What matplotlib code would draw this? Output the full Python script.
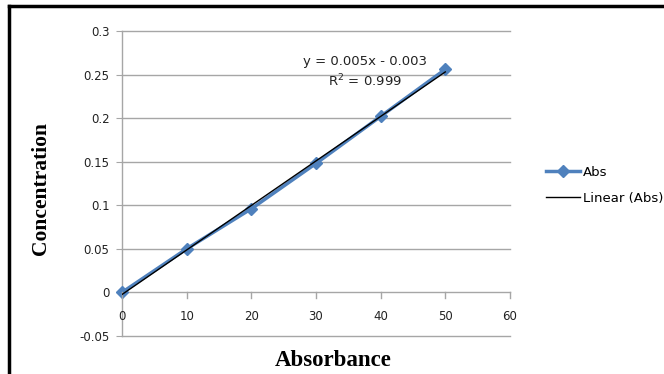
import numpy as np
import matplotlib.pyplot as plt
from matplotlib.lines import Line2D

# data
absorbance = [0, 10, 20, 30, 40, 50]
concentration = [0.0, 0.05, 0.096, 0.148, 0.202, 0.256]
x_ticks = [0, 10, 20, 30, 40, 50, 60]
y_ticks = [-0.05, 0, 0.05, 0.1, 0.15, 0.2, 0.25, 0.3]
y_tick_labels = ["-0.05", "0", "0.05", "0.1", "0.15", "0.2", "0.25", "0.3"]

fig = plt.figure(figsize=(6.64, 3.74), dpi=100)
ax = fig.add_axes([0.1837, 0.1016, 0.5843, 0.8155])

ax.set_xlim(0, 60)
ax.set_ylim(-0.05, 0.3)

# gridlines at every y tick, gray
for yv in y_ticks:
    ax.axhline(yv, color="#a6a6a6", lw=1, zorder=0, clip_on=False)
for s in ax.spines.values():
    s.set_visible(False)
ax.axvline(0, color="#a6a6a6", lw=1, zorder=0, clip_on=False)

# linear trendline
coef = np.polyfit(absorbance, concentration, 1)
xs = np.array([absorbance[0], absorbance[-1]])
ax.plot(xs, np.polyval(coef, xs), color="black", lw=1, zorder=3)

ax.plot(absorbance, concentration, color="#4f81bd", lw=2.5, marker="D",
        markersize=6, zorder=2, clip_on=False)

ax.text(37.6, 0.2645, "y = 0.005x - 0.003", ha="center", va="center",
        fontsize=9.5, family="DejaVu Sans", color="#222222")
ax.text(37.6, 0.2425, "R$^2$ = 0.999", ha="center", va="center",
        fontsize=9.5, family="DejaVu Sans", color="#222222")

# x axis sits at y=0, tick labels below it
ax.set_xticks(x_ticks)
ax.set_xticklabels([])
for xv in x_ticks:
    ax.plot([xv, xv], [0, -0.006], color="#a6a6a6", lw=1, clip_on=False)
    ax.text(xv, -0.028, str(xv), ha="center", va="center", fontsize=8.5,
            family="DejaVu Sans", color="#222222")
ax.tick_params(axis="x", length=0)
ax.set_yticks(y_ticks)
ax.set_yticklabels(y_tick_labels, family="DejaVu Sans", fontsize=8.5,
                   color="#222222")
ax.tick_params(axis="y", length=4, color="#a6a6a6", pad=5)

fig.text(0.062, 0.495, "Concentration", rotation=90, ha="center", va="center",
         family="Liberation Serif", weight="bold", fontsize=15.5)
fig.text(0.502, 0.035, "Absorbance", ha="center", va="center",
         family="Liberation Serif", weight="bold", fontsize=16.5)

handles = [Line2D([], [], color="#4f81bd", lw=2.5, marker="D", markersize=6),
           Line2D([], [], color="black", lw=1)]
fig.legend(handles, ["Abs", "Linear (Abs)"], loc="center left",
           bbox_to_anchor=(0.804, 0.505), frameon=False,
           prop={"family": "DejaVu Sans", "size": 9.5}, handlelength=2.6,
           handletextpad=0.25, labelspacing=1.0)

# black frame around the figure (only left and top visible in reference)
fig.add_artist(Line2D([0.013, 0.013], [0, 0.985], color="black", lw=2.5,
                      transform=fig.transFigure))
fig.add_artist(Line2D([0.013, 1], [0.985, 0.985], color="black", lw=2.5,
                      transform=fig.transFigure))

fig.savefig("out.png", dpi=100)
